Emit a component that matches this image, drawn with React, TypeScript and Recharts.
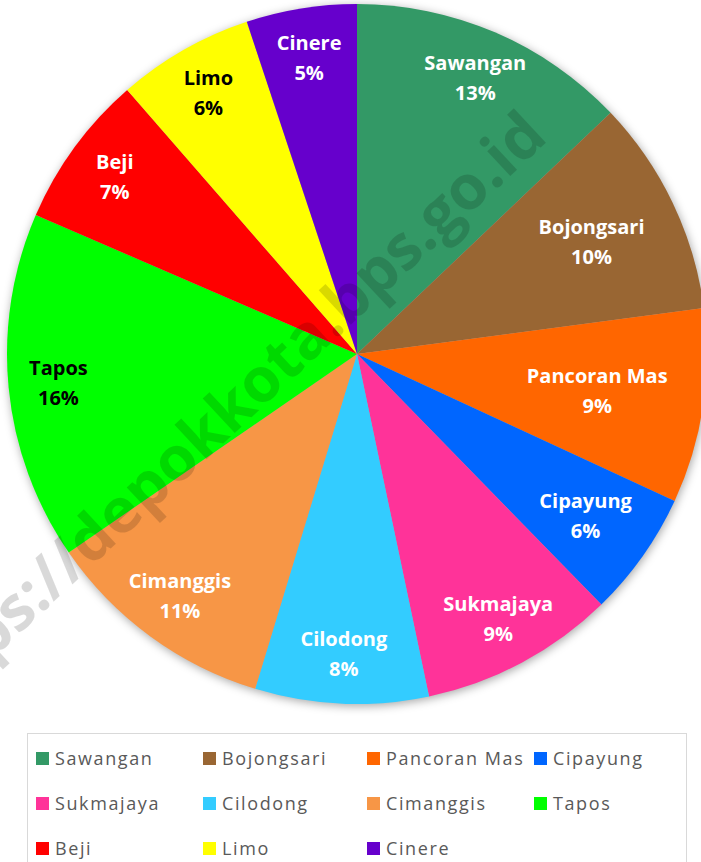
import React from 'react';
import { PieChart, Pie, Cell, Legend } from 'recharts';

// share of each kecamatan (percent), clockwise from 12 o'clock
const districts = [
  'Sawangan',
  'Bojongsari',
  'Pancoran Mas',
  'Cipayung',
  'Sukmajaya',
  'Cilodong',
  'Cimanggis',
  'Tapos',
  'Beji',
  'Limo',
  'Cinere',
];
const shares = [12.9, 10.0, 9.0, 5.8, 9.0, 8.0, 10.7, 16.1, 7.1, 6.3, 5.1];

const sliceColors = [
  '#339966',
  '#996633',
  '#ff6600',
  '#0066ff',
  '#ff3399',
  '#33ccff',
  '#f79646',
  '#00ff00',
  '#ff0000',
  '#ffff00',
  '#6600cc',
];
const darkLabels = ['Tapos', 'Limo'];

// labels near the clipped right edge sit closer to the centre
const labelRadius: Record<string, number> = {
  Bojongsari: 260,
  'Pancoran Mas': 243,
  Cipayung: 280,
};

const data = districts.map((name, i) => ({ name, value: shares[i] }));

const RADIAN = Math.PI / 180;

const renderLabel = ({ cx, cy, midAngle, percent, name }: any) => {
  const r = labelRadius[name] ?? 300;
  const x = cx + r * Math.cos(-midAngle * RADIAN);
  const y = cy + r * Math.sin(-midAngle * RADIAN);
  const fill = darkLabels.includes(name) ? '#000000' : '#ffffff';
  return (
    <text
      x={x}
      y={y}
      fill={fill}
      textAnchor="middle"
      fontFamily="'Open Sans', sans-serif"
      fontWeight={700}
      fontSize={20}
    >
      <tspan x={x} dy={-8}>{name}</tspan>
      <tspan x={x} dy={30}>{`${Math.round(percent * 100)}%`}</tspan>
    </text>
  );
};

const colLeft = [8, 175, 339, 506];

const renderLegend = ({ payload }: any) => {
  // keep the slice order, not the alphabetical one
  const items = [...(payload || [])].sort(
    (a: any, b: any) => districts.indexOf(a.value) - districts.indexOf(b.value)
  );
  return (
    <div
      style={{
        position: 'relative',
        width: 660,
        height: 134,
        border: '1px solid #d9d9d9',
        background: '#ffffff',
        boxSizing: 'border-box',
      }}
    >
      {items.map((entry: any, i: number) => (
        <div
          key={entry.value}
          style={{
            position: 'absolute',
            left: colLeft[i % 4],
            top: 12 + Math.floor(i / 4) * 45,
            display: 'flex',
            alignItems: 'center',
            height: 24,
            fontFamily: "'Open Sans', sans-serif",
            fontSize: 18,
            letterSpacing: 1.6,
            color: '#595959',
            whiteSpace: 'nowrap',
          }}
        >
          <span
            style={{
              display: 'inline-block',
              width: 13,
              height: 13,
              background: entry.color,
              marginRight: 6,
            }}
          />
          {entry.value}
        </div>
      ))}
    </div>
  );
};

export default function App() {
  return (
    <div
      style={{
        position: 'absolute',
        left: 0,
        top: 0,
        width: 701,
        height: 862,
        overflow: 'hidden',
        background: '#ffffff',
      }}
    >
      <style>{'.recharts-pie { filter: drop-shadow(1px 2px 5px rgba(0,0,0,0.35)); }'}</style>
      <PieChart width={701} height={862} margin={{ top: 0, right: 0, bottom: 0, left: 0 }}>
        <Pie
          data={data}
          dataKey="value"
          nameKey="name"
          cx={357}
          cy={354}
          outerRadius={350}
          startAngle={90}
          endAngle={-270}
          stroke="none"
          label={renderLabel}
          labelLine={false}
          isAnimationActive={false}
        >
          {data.map((d, i) => (
            <Cell key={d.name} fill={sliceColors[i]} />
          ))}
        </Pie>
        <Legend
          content={renderLegend}
          wrapperStyle={{ position: 'absolute', left: 27, top: 733, width: 660, bottom: 'auto' }}
        />
      </PieChart>
      <svg
        width={701}
        height={862}
        style={{ position: 'absolute', left: 0, top: 0, pointerEvents: 'none' }}
      >
        <text
          x={533}
          y={122}
          textAnchor="end"
          dominantBaseline="central"
          transform="rotate(-43 533 122)"
          fontFamily="'Open Sans', sans-serif"
          fontWeight={700}
          fontSize={62}
          fill="#000000"
          fillOpacity={0.15}
        >
          https://depokkota.bps.go.id
        </text>
      </svg>
    </div>
  );
}
